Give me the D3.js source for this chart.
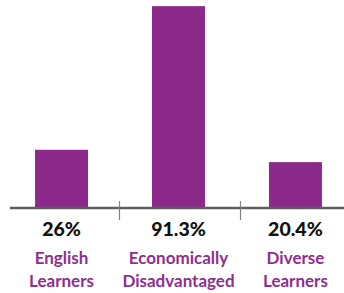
<!DOCTYPE html>
<html>
<head>
<meta charset="utf-8">
<script src="https://cdn.jsdelivr.net/npm/d3@7"></script>
<style>
  body { margin: 0; background: #fff; }
  svg { display: block; }
</style>
</head>
<body>
<svg id="chart" width="344" height="293"></svg>
<script>
// data
const categories = ["English Learners", "Economically Disadvantaged", "Diverse Learners"];
const labelLines = [["English", "Learners"], ["Economically", "Disadvantaged"], ["Diverse", "Learners"]];
const values = [26, 91.3, 20.4];
const valueLabels = ["26%", "91.3%", "20.4%"];

let svg = d3.select("#chart");

const baseY = 207;

let x = d3.scaleBand()
    .domain(categories)
    .range([3, 354])
    .paddingInner(0.547)
    .paddingOuter(0.274);

let y = d3.scaleLinear()
    .domain([0, 100])
    .range([baseY, -13]);

// bars
svg.selectAll("rect.bar")
    .data(values)
    .join("rect")
    .attr("class", "bar")
    .attr("x", (d, i) => x(categories[i]))
    .attr("width", x.bandwidth())
    .attr("y", d => y(d))
    .attr("height", d => y(0) - y(d))
    .attr("fill", "#8b2a8b");

// baseline
svg.append("line")
    .attr("x1", 10).attr("x2", 344)
    .attr("y1", baseY + 1).attr("y2", baseY + 1)
    .attr("stroke", "#5e5e5e")
    .attr("stroke-width", 2.5);

// separators between categories
let step = x.step();
svg.selectAll("line.sep")
    .data(categories.slice(1))
    .join("line")
    .attr("class", "sep")
    .attr("x1", (d, i) => Math.round(x(d) - (step - x.bandwidth()) / 2) + (i ? 3.5 : -0.5))
    .attr("x2", (d, i) => Math.round(x(d) - (step - x.bandwidth()) / 2) + (i ? 3.5 : -0.5))
    .attr("y1", 201).attr("y2", 220)
    .attr("stroke", "#808080")
    .attr("stroke-width", 1.2);

// value labels
svg.selectAll("text.val")
    .data(valueLabels)
    .join("text")
    .attr("class", "val")
    .attr("x", (d, i) => x(categories[i]) + x.bandwidth() / 2)
    .attr("y", 236)
    .attr("text-anchor", "middle")
    .attr("font-family", "Lato, sans-serif")
    .attr("font-weight", 900)
    .attr("font-size", 19.5)
    .attr("fill", "#111")
    .text(d => d);

// category labels
let cat = svg.selectAll("text.cat")
    .data(labelLines)
    .join("text")
    .attr("class", "cat")
    .attr("text-anchor", "middle")
    .attr("font-family", "Lato, sans-serif")
    .attr("font-weight", 700)
    .attr("font-size", 17)
    .attr("fill", "#8e2f8e");

cat.selectAll("tspan")
    .data((d, i) => d.map(t => ({ t, i })))
    .join("tspan")
    .attr("x", d => x(categories[d.i]) + x.bandwidth() / 2)
    .attr("y", (d, j) => 264 + j * 22.5)
    .text(d => d.t);
</script>
</body>
</html>
